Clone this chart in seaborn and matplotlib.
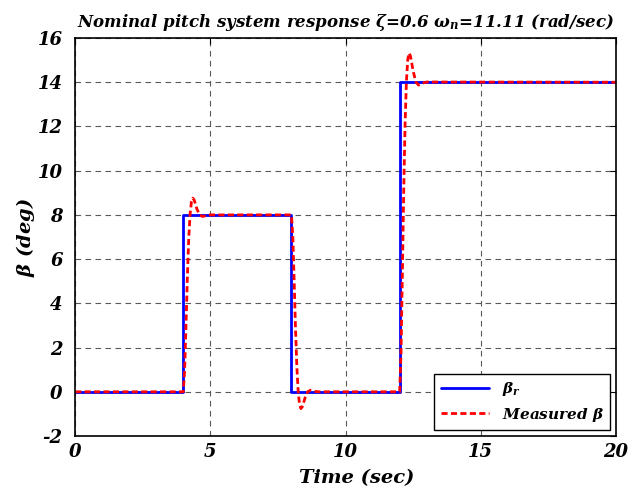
import matplotlib
matplotlib.use("Agg")
import matplotlib.pyplot as plt
import seaborn as sns
import pandas as pd

# Reference pitch command (deg)
ref_time = [0, 4, 4, 8, 8, 12, 12, 20]
ref_beta = [0, 0, 8, 8, 0, 0, 14, 14]

# Measured pitch angle (deg)
meas_time = [0, 4.00, 4.05, 4.10, 4.15, 4.20, 4.25, 4.30, 4.35, 4.40, 4.45, 4.50, 4.60, 4.70, 4.80, 4.90, 5.00,
             8.00, 8.05, 8.10, 8.15, 8.20, 8.25, 8.30, 8.35, 8.40, 8.45, 8.50, 8.60, 8.70, 8.80, 8.90, 9.00,
             12.00, 12.05, 12.10, 12.15, 12.20, 12.25, 12.30, 12.35, 12.40, 12.45, 12.50, 12.60, 12.70, 12.80,
             12.90, 13.00, 20.0]
meas_beta = [0, 0.00, 0.98, 3.02, 5.16, 6.89, 8.01, 8.59, 8.76, 8.68, 8.49, 8.28, 8.00, 7.93, 7.95, 7.99, 8.00,
             8.00, 7.02, 4.98, 2.84, 1.11, -0.01, -0.59, -0.76, -0.68, -0.49, -0.28, 0.00, 0.07, 0.05, 0.01, 0.00,
             0.00, 1.71, 5.29, 9.03, 12.05, 14.03, 15.04, 15.32, 15.18, 14.85, 14.50, 14.01, 13.87, 13.92,
             13.98, 14.01, 14.00]

x_ticks = [0, 5, 10, 15, 20]
y_ticks = [-2, 0, 2, 4, 6, 8, 10, 12, 14, 16]

sns.set_theme(style="white")
plt.rcParams["font.family"] = ["DejaVu Serif"]
plt.rcParams["font.weight"] = "bold"
plt.rcParams["font.style"] = "italic"
plt.rcParams["text.color"] = "black"
plt.rcParams["axes.labelcolor"] = "black"
plt.rcParams["xtick.color"] = "black"
plt.rcParams["ytick.color"] = "black"
plt.rcParams["mathtext.fontset"] = "custom"
plt.rcParams["mathtext.rm"] = "DejaVu Serif:bold:italic"
plt.rcParams["mathtext.it"] = "DejaVu Serif:bold:italic"
plt.rcParams["mathtext.bf"] = "DejaVu Serif:bold:italic"

fig = plt.figure(figsize=(6.42, 4.91), dpi=100)
ax = fig.add_axes([0.117, 0.112, 0.8425, 0.8106])

ref_df = pd.DataFrame({"t": ref_time, "beta": ref_beta})
meas_df = pd.DataFrame({"t": meas_time, "beta": meas_beta})

sns.lineplot(data=ref_df, x="t", y="beta", estimator=None, sort=False, ax=ax,
             color="#0000ff", linewidth=2.0, label=r"$\beta_r$")
sns.lineplot(data=meas_df, x="t", y="beta", estimator=None, sort=False, ax=ax,
             color="#ff0000", linewidth=2.0, linestyle=(0, (2.2, 1.2)), label=r"Measured $\beta$")

ax.set_xlim(0, 20)
ax.set_ylim(-2, 16)
ax.set_xticks(x_ticks)
ax.set_yticks(y_ticks)
ax.set_xticklabels([str(v) for v in x_ticks], fontsize=13, fontweight="bold", fontstyle="italic")
ax.set_yticklabels([str(v) for v in y_ticks], fontsize=13, fontweight="bold", fontstyle="italic")
ax.tick_params(direction="in", length=4, width=0.8, color="black", top=True, right=True)
ax.tick_params(axis="y", pad=9)
ax.tick_params(axis="x", pad=5)

ax.grid(True, color="0.35", linestyle=(0, (5, 4)), linewidth=0.8)
for s in ax.spines.values():
    s.set_color("black")
    s.set_linewidth(1.2)

ax.set_xlabel("Time (sec)", fontsize=14, fontweight="bold", fontstyle="italic")
ax.xaxis.set_label_coords(0.52, -0.083)
ax.set_ylabel(r"$\beta$ (deg)", fontsize=14, fontweight="bold", fontstyle="italic")
ax.yaxis.set_label_coords(-0.07, 0.5)
ax.set_title(r"Nominal pitch system response ζ=0.6 $\omega_n$=11.11 (rad/sec)",
             fontsize=12, fontweight="bold", fontstyle="italic", pad=8)

leg = ax.legend(loc="lower right", frameon=True, fancybox=False,
                edgecolor="black", framealpha=1, borderaxespad=0.4, handlelength=3.2,
                prop={"family": "DejaVu Serif", "weight": "bold", "style": "italic", "size": 11})
leg.get_frame().set_linewidth(1.0)

fig.savefig("out.png", dpi=100)
